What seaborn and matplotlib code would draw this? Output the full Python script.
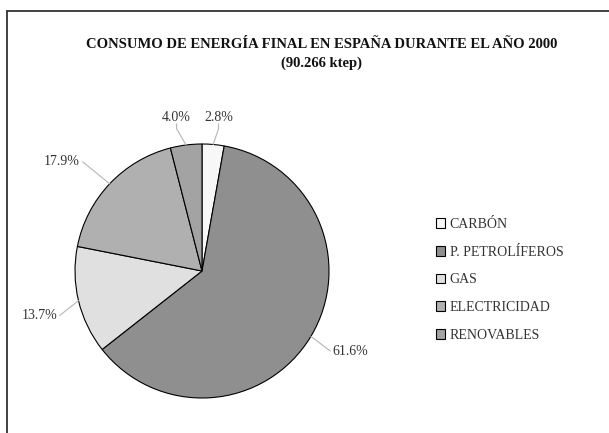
import numpy as np
import seaborn as sns
import matplotlib.pyplot as plt
from matplotlib.lines import Line2D

# Data
categories = ['CARBÓN', 'P. PETROLÍFEROS', 'GAS', 'ELECTRICIDAD', 'RENOVABLES']
shares = [2.8, 61.6, 13.7, 17.9, 4.0]
colors = ['#f7f7f7', '#8f8f8f', '#e0e0e0', '#b0b0b0', '#a3a3a3']
pct_labels = ['2.8%', '61.6%', '13.7%', '17.9%', '4.0%']

sns.set_style('white')
plt.rcParams['font.family'] = ['Liberation Serif', 'DejaVu Serif']

fig = plt.figure(figsize=(6.09, 4.33), dpi=100)
ax = fig.add_axes([0, 0, 1, 1])

wedges, _ = ax.pie(shares, colors=colors, startangle=90, counterclock=False,
                   radius=1.0, wedgeprops=dict(edgecolor='black', linewidth=0.8))

# label placement (offset in radius units) and leader style per slice
label_pos = [(0.13, 1.22), (1.13, -0.63), (-1.24, -0.35), (-1.06, 0.86), (-0.2, 1.22)]
leader = ['v', 'h', 'h', 'h', 'v']
for w, txt, (lx, ly), kind in zip(wedges, pct_labels, label_pos, leader):
    mid = np.deg2rad((w.theta1 + w.theta2) / 2)
    ex, ey = np.cos(mid), np.sin(mid)
    if kind == 'v':
        elbow = (lx, ly - 0.1)
    else:
        elbow = (lx - 0.12 * np.sign(lx), ly)
    ax.plot([ex, elbow[0], lx if kind == 'v' else elbow[0]],
            [ey, elbow[1], ly - 0.06 if kind == 'v' else elbow[1]],
            color='#b5b5b5', lw=0.8, zorder=1)
    ha = 'center' if kind == 'v' else ('left' if lx > 0 else 'right')
    va = 'bottom' if kind == 'v' else 'center'
    tx = lx if kind == 'v' else elbow[0] + 0.02 * np.sign(lx)
    ty = ly - 0.06 if kind == 'v' else ly
    ax.text(tx, ty, txt, ha=ha, va=va, fontsize=10, color='#333333')

ax.set_xlim(-202 / 127, (609 - 202) / 127)
ax.set_ylim((271 - 433) / 127, 271 / 127)
ax.set_aspect('equal')
ax.axis('off')

leg = ax.legend(wedges, categories, loc='upper left',
                bbox_to_anchor=(0.695, 0.525), bbox_transform=fig.transFigure,
                frameon=False, fontsize=10, handlelength=0.7, handleheight=0.7,
                handletextpad=0.3, labelspacing=1.05)
for t in leg.get_texts():
    t.set_color('#333333')

fig.text(0.528, 0.897, 'CONSUMO DE ENERGÍA FINAL EN ESPAÑA DURANTE EL AÑO 2000',
         ha='center', va='center', fontsize=10.5, fontweight='bold', color='#111111')
fig.text(0.528, 0.855, '(90.266 ktep)', ha='center', va='center',
         fontsize=10.5, fontweight='bold', color='#111111')

# chart frame (partly cut off at right and bottom)
fig.add_artist(Line2D([7 / 609, 1], [1 - 11 / 433] * 2, color='#333333', lw=1.3))
fig.add_artist(Line2D([7 / 609] * 2, [0, 1 - 11 / 433], color='#333333', lw=1.3))

fig.savefig('out.png', dpi=100, facecolor='white')
